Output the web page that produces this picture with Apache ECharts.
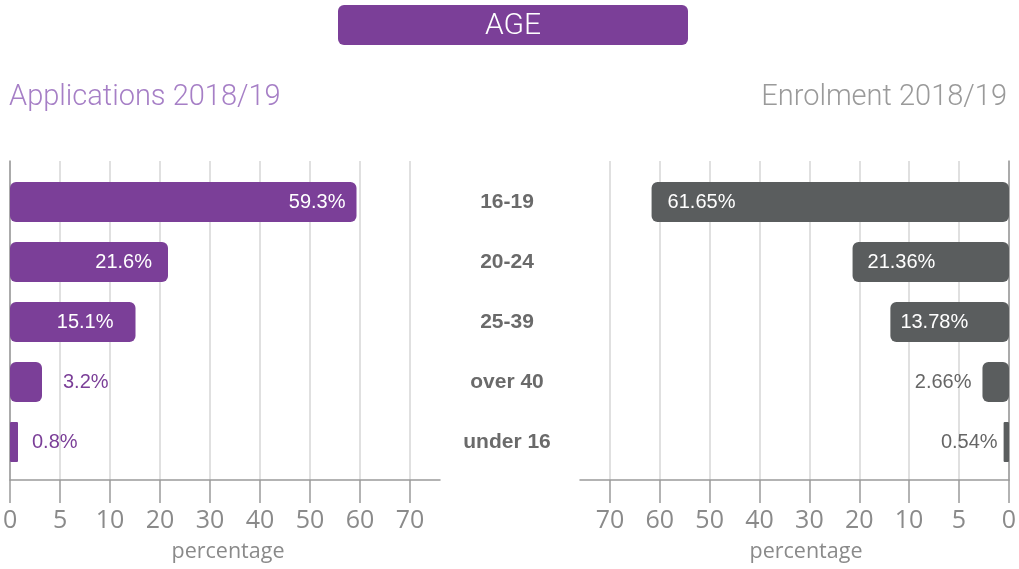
<!DOCTYPE html>
<html>
<head>
<meta charset="utf-8">
<script src="https://cdn.jsdelivr.net/npm/echarts@6/dist/echarts.min.js"></script>
<style>html,body{margin:0;padding:0;background:#fff}#c{width:1019px;height:569px}</style>
</head>
<body>
<div id="c"></div>
<script>
// ---- data ----
const categories = ['16-19', '20-24', '25-39', 'over 40', 'under 16'];
const applications = [59.3, 21.6, 15.1, 3.2, 0.8];
const enrolment = [61.65, 21.36, 13.78, 2.66, 0.54];
const tickLabels = [0, 5, 10, 20, 30, 40, 50, 60, 70];
const titleText = 'AGE';
const leftTitle = 'Applications 2018/19';
const rightTitle = 'Enrolment 2018/19';
const axisName = 'percentage';

// ---- piecewise axis scale (0-10 stretched, 10-70 compressed) ----
function toAxis(v) { return v <= 10 ? v : 10 + (v - 10) / 2; }
function fromAxis(t) { return t <= 10 ? t : 10 + (t - 10) * 2; }
const tickPos = tickLabels.map(toAxis);
const AXMAX = 43;

// ---- styles ----
const PURPLE = '#7b3f98';
const GREY = '#5a5d5e';
const leftLabelStyle = [
  {position: 'insideRight', distance: 11, color: '#fff'},
  {position: 'insideRight', distance: 16, color: '#fff'},
  {position: 'insideRight', distance: 22, color: '#fff'},
  {position: 'right', distance: 21, color: PURPLE},
  {position: 'right', distance: 14, color: PURPLE}
];
const rightLabelStyle = [
  {position: 'insideLeft', distance: 16, color: '#fff'},
  {position: 'insideLeft', distance: 15, color: '#fff'},
  {position: 'insideLeft', distance: 10, color: '#fff'},
  {position: 'left', distance: 11, color: '#666'},
  {position: 'left', distance: 6, color: '#666'}
];

function gridAxis(gridIndex, inverse) {
  return {
    type: 'value', gridIndex, min: 0, max: AXMAX, interval: 5, inverse,
    axisLine: {show: true, lineStyle: {color: '#9a9a9a', width: 1.5}},
    axisTick: {show: true, length: 23, customValues: tickPos, lineStyle: {color: '#9a9a9a', width: 1.5}},
    axisLabel: {
      show: true, customValues: tickPos, margin: 28,
      fontFamily: 'Open Sans', fontSize: 25, color: '#8a8a8a',
      formatter: function (t) { return tickPos.indexOf(t) >= 0 ? String(fromAxis(t)) : ''; }
    },
    splitLine: {show: true, lineStyle: {color: ['#d6d6d6','#d6d6d6','#d6d6d6','#d6d6d6','#d6d6d6','#d6d6d6','#d6d6d6','#d6d6d6','#d6d6d6','rgba(0,0,0,0)'], width: 1.5}}
  };
}
function barAxis(gridIndex, inverse) {
  return {type: 'value', gridIndex, min: 0, max: AXMAX, inverse, show: false, splitLine: {show: false}};
}

function barData(values, styles, color) {
  return values.map(function (v, i) {
    return {
      value: toAxis(v),
      itemStyle: {color: color, borderRadius: v < 1 ? 1 : 6},
      label: {
        show: true, position: styles[i].position, distance: styles[i].distance,
        color: styles[i].color, fontFamily: 'Liberation Sans', fontSize: 20,
        formatter: function () { return values[i] + '%'; }
      }
    };
  });
}

const chart = echarts.init(document.getElementById('c'), null, {renderer: 'canvas'});
chart.setOption({
  animation: false,
  backgroundColor: '#fff',
  grid: [
    {left: 10, top: 161, width: 430, height: 319},
    {left: 580, top: 161, width: 429, height: 319},
    {left: 10, top: 172, width: 430, height: 300},
    {left: 580, top: 172, width: 429, height: 300}
  ],
  xAxis: [gridAxis(0, false), gridAxis(1, true), barAxis(2, false), barAxis(3, true)],
  yAxis: [
    {type: 'value', gridIndex: 0, min: 0, max: 1, position: 'left',
     axisLine: {show: true, lineStyle: {color: '#9a9a9a', width: 1.5}}, axisTick: {show: false}, axisLabel: {show: false}, splitLine: {show: false}},
    {type: 'value', gridIndex: 1, min: 0, max: 1, position: 'right',
     axisLine: {show: true, lineStyle: {color: '#9a9a9a', width: 1.5}}, axisTick: {show: false}, axisLabel: {show: false}, splitLine: {show: false}},
    {type: 'category', gridIndex: 2, data: categories, inverse: true, position: 'right',
     axisLine: {show: false}, axisTick: {show: false},
     axisLabel: {show: true, margin: 67, align: 'center', fontFamily: 'Liberation Sans', fontWeight: 'bold', fontSize: 21, color: '#6a6a6a', padding: [4, 0, 0, 0]}},
    {type: 'category', gridIndex: 3, data: categories, inverse: true, show: false}
  ],
  series: [
    {type: 'bar', xAxisIndex: 2, yAxisIndex: 2, barWidth: 40, data: barData(applications, leftLabelStyle, PURPLE)},
    {type: 'bar', xAxisIndex: 3, yAxisIndex: 3, barWidth: 40, data: barData(enrolment, rightLabelStyle, GREY)}
  ],
  graphic: [
    {type: 'rect', shape: {x: 338, y: 5, width: 350, height: 40, r: 6}, style: {fill: PURPLE}},
    {type: 'text', x: 513, y: 26, style: {text: titleText, fill: '#fff', font: '300 30px Roboto', textAlign: 'center', textVerticalAlign: 'middle'}},
    {type: 'text', x: 9, y: 98, style: {text: leftTitle, fill: '#a67fc6', font: '300 29px Roboto', textAlign: 'left', textVerticalAlign: 'middle'}},
    {type: 'text', x: 1007, y: 98, style: {text: rightTitle, fill: '#9a9a9a', font: '300 29px Roboto', textAlign: 'right', textVerticalAlign: 'middle'}},
    {type: 'text', x: 228, y: 552, style: {text: axisName, fill: '#8a8a8a', font: '21.5px "Open Sans"', textAlign: 'center', textVerticalAlign: 'middle'}},
    {type: 'text', x: 806, y: 552, style: {text: axisName, fill: '#8a8a8a', font: '21.5px "Open Sans"', textAlign: 'center', textVerticalAlign: 'middle'}}
  ]
});
</script>
</body>
</html>
